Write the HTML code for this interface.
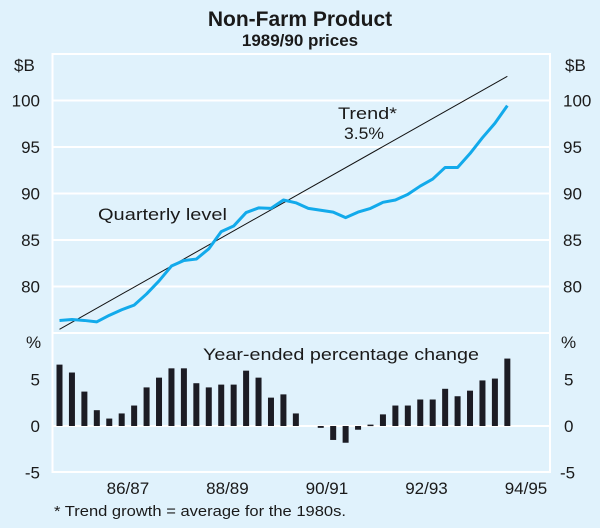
<!DOCTYPE html>
<html><head><meta charset="utf-8"><style>
html,body{margin:0;padding:0;background:#e0f2fc;}
svg{display:block;font-family:"Liberation Sans",Arial,sans-serif;}
</style></head><body>
<svg id="chart" width="600" height="528" viewBox="0 0 600 528" xmlns="http://www.w3.org/2000/svg">
<rect x="0" y="0" width="600" height="528" fill="#e0f2fc"/>
<text x="300" y="26" text-anchor="middle" font-size="21" font-weight="bold" fill="#1a1a1a">Non-Farm Product</text>
<text x="300" y="46" text-anchor="middle" font-size="17" font-weight="bold" fill="#1a1a1a">1989/90 prices</text>
<g id="grid"></g>
<g id="marks"></g>
<g id="labels" font-size="17" fill="#1a1a1a"></g>
</svg>
<script>
const categories = ["Sep85","Dec85","Mar86","Jun86","Sep86","Dec86","Mar87","Jun87","Sep87","Dec87","Mar88","Jun88","Sep88","Dec88","Mar89","Jun89","Sep89","Dec89","Mar90","Jun90","Sep90","Dec90","Mar91","Jun91","Sep91","Dec91","Mar92","Jun92","Sep92","Dec92","Mar93","Jun93","Sep93","Dec93","Mar94","Jun94","Sep94"];
const levelValues = [76.35,76.45,76.35,76.2,76.9,77.5,78.0,79.2,80.6,82.2,82.8,82.95,84.05,85.9,86.5,87.95,88.45,88.4,89.3,89.0,88.4,88.2,88.0,87.4,88.0,88.4,89.05,89.3,89.9,90.8,91.55,92.8,92.8,94.3,96.0,97.55,99.45];
const trendIndex = [0,36];
const trendValues = [75.4,102.6];
const changeValues = [6.6,5.75,3.7,1.7,0.8,1.35,2.2,4.15,5.2,6.2,6.2,4.6,4.15,4.45,4.45,5.95,5.2,3.05,3.4,1.35,0,-0.2,-1.5,-1.8,-0.4,0.15,1.25,2.2,2.2,2.85,2.85,4.0,3.2,3.8,4.9,5.1,7.25];
const topTicks = [80,85,90,95,100];
const bottomTicks = [-5,0,5];
const xLabels = ["86/87","88/89","90/91","92/93","94/95"];
const xLabelIndex = [5.5,13.5,21.5,29.5,37.5];

const NS="http://www.w3.org/2000/svg";
const L=52.5,R=550;
const x=i=>59.5+i*12.44;
const yTop=v=>333-(v-75)*9.3;
const yBot=v=>426-v*9.3;
function mk(tag,attrs,parent,text){const e=document.createElementNS(NS,tag);for(const k in attrs)e.setAttribute(k,attrs[k]);if(text!==undefined)e.textContent=text;document.getElementById(parent).appendChild(e);return e;}

let e;
e=mk('rect',{x:L,y:54,width:R-L,height:418,fill:'none',stroke:'#fff','stroke-width':2},'grid');


e=mk('line',{x1:L,x2:R,y1:333,y2:333,stroke:'#fff','stroke-width':2},'grid');


topTicks.forEach(v=>{
  const g=mk('line',{x1:L,x2:R,y1:yTop(v),y2:yTop(v),stroke:'#fff','stroke-width':2},'grid');
  
  
  const a=mk('text',{x:40,y:yTop(v)+6,'text-anchor':'end'},'labels',String(v));
  
  
  const b=mk('text',{x:563,y:yTop(v)+6,'text-anchor':'start'},'labels',String(v));
  
  
});
bottomTicks.forEach(v=>{
  if(v===0){const g=mk('line',{x1:L,x2:R,y1:yBot(0),y2:yBot(0),stroke:'#fff','stroke-width':2},'grid');
  
  }
  const a=mk('text',{x:40,y:yBot(v)+6,'text-anchor':'end'},'labels',String(v));
  
  
  const b=mk('text',{x:v<0?560:564,y:yBot(v)+6,'text-anchor':'start'},'labels',String(v));
  
  
});
[['$B',14,71,'y-left-unit'],['$B',565,71,'y-right-unit'],['%',26,348,'y-left-unit-pct'],['%',561,348,'y-right-unit-pct']].forEach(t=>{
  const a=mk('text',{x:t[1],y:t[2]},'labels',t[0]);
  
  
});
xLabels.forEach((s,i)=>{
  const a=mk('text',{x:x(xLabelIndex[i]),y:494,'text-anchor':'middle'},'labels',s);
  
  
});

changeValues.forEach((v,i)=>{
  if(v===0)return;
  const y0=yBot(Math.max(v,0)),h=Math.max(Math.abs(v)*9.3,1.5);
  const r=mk('rect',{x:x(i)-3,y:y0,width:6,height:h,fill:'#1c1c24'},'marks');
  
  
});
const tl=mk('line',{x1:x(trendIndex[0]),y1:yTop(trendValues[0]),x2:x(trendIndex[1]),y2:yTop(trendValues[1]),stroke:'#111','stroke-width':1},'marks');


const pl=mk('polyline',{points:levelValues.map((v,i)=>x(i)+','+yTop(v)).join(' '),fill:'none',stroke:'#12aaeb','stroke-width':3,'stroke-linejoin':'round'},'marks');



[['Trend*',338,119,59,'trend-label'],['3.5%',344,139,40,'trend-rate-label'],['Quarterly level',98,220,129,'quarterly-level-label'],['Year-ended percentage change',203,360,276,'bottom-panel-title']].forEach(t=>{
  const a=mk('text',{x:t[1],y:t[2],textLength:t[3],lengthAdjust:'spacingAndGlyphs'},'labels',t[0]);
  
  
});
const fn=mk('text',{x:54,y:516,'font-size':'15',textLength:292,lengthAdjust:'spacingAndGlyphs'},'labels','* Trend growth = average for the 1980s.');


</script>
</body></html>
